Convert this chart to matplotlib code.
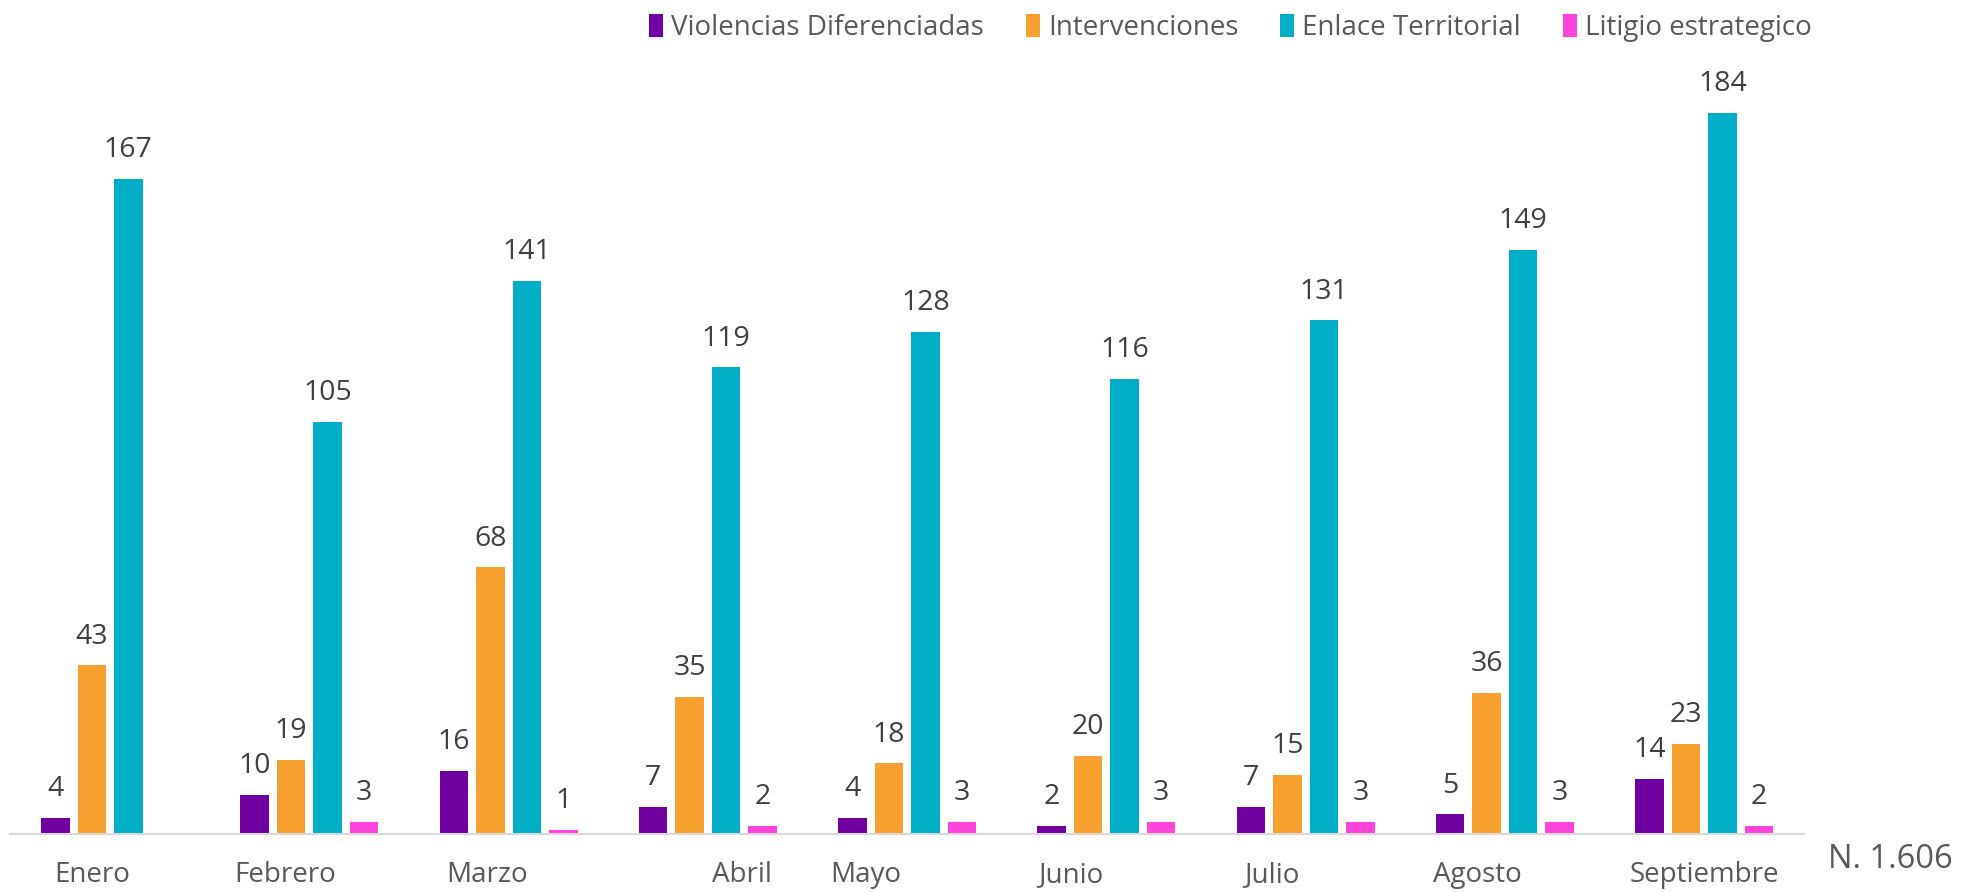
import matplotlib
matplotlib.use("Agg")
import matplotlib.pyplot as plt
import numpy as np

plt.rcParams['font.family'] = ['Open Sans', 'DejaVu Sans']

meses = ['Enero', 'Febrero', 'Marzo', 'Abril', 'Mayo', 'Junio', 'Julio', 'Agosto', 'Septiembre']
series = ['Violencias Diferenciadas', 'Intervenciones', 'Enlace Territorial', 'Litigio estrategico']
violencias = [4, 10, 16, 7, 4, 2, 7, 5, 14]
intervenciones = [43, 19, 68, 35, 18, 20, 15, 36, 23]
enlace = [167, 105, 141, 119, 128, 116, 131, 149, 184]
litigio = [0, 3, 1, 2, 3, 3, 3, 3, 2]
total_label = 'N. 1.606'

colores = ['#70009F', '#F7A030', '#00AEC7', '#FF44DD']
# label positions in the original are slightly off-center
label_shift = [-0.09, -0.12, -0.11, 0.17, -0.21, -0.18, -0.17, -0.14, 0.0]

fig = plt.figure(figsize=(19.75, 8.92), dpi=100)
ax = fig.add_axes([0.0053, 0.065, 0.908, 0.879])

x = np.arange(len(meses))
pitch = 0.183
width = 0.143
datos = [violencias, intervenciones, enlace, litigio]
for k, (vals, col, name) in enumerate(zip(datos, colores, series)):
    pos = x + (k - 1.5) * pitch
    ax.bar(pos, vals, width, color=col, label=name, zorder=2)
    for xp, v in zip(pos, vals):
        if v > 0:
            ax.text(xp, v + 3.8, str(v), ha='center', va='bottom',
                    fontsize=20.5, color='#404040')

ax.set_xlim(-0.5, len(meses) - 0.5)
ax.set_ylim(0, 200)
for s in ['top', 'right', 'left']:
    ax.spines[s].set_visible(False)
ax.spines['bottom'].set_color('#D9D9D9')
ax.spines['bottom'].set_linewidth(1.5)
ax.set_yticks([])
ax.set_xticks([])
for i, m in enumerate(meses):
    ax.text(x[i] + label_shift[i], -7, m, ha='center', va='top',
            fontsize=20, color='#595959')

leg = fig.legend(loc='upper left', bbox_to_anchor=(0.316, 1.012), ncol=4,
                 frameon=False, fontsize=20, handlelength=0.5, handleheight=0.9,
                 handletextpad=0.3, columnspacing=1.5, labelcolor='#595959')

fig.text(0.9885, 0.036, total_label, ha='right', va='center', fontsize=23.5, color='#595959')

fig.savefig('out.png', dpi=100)
